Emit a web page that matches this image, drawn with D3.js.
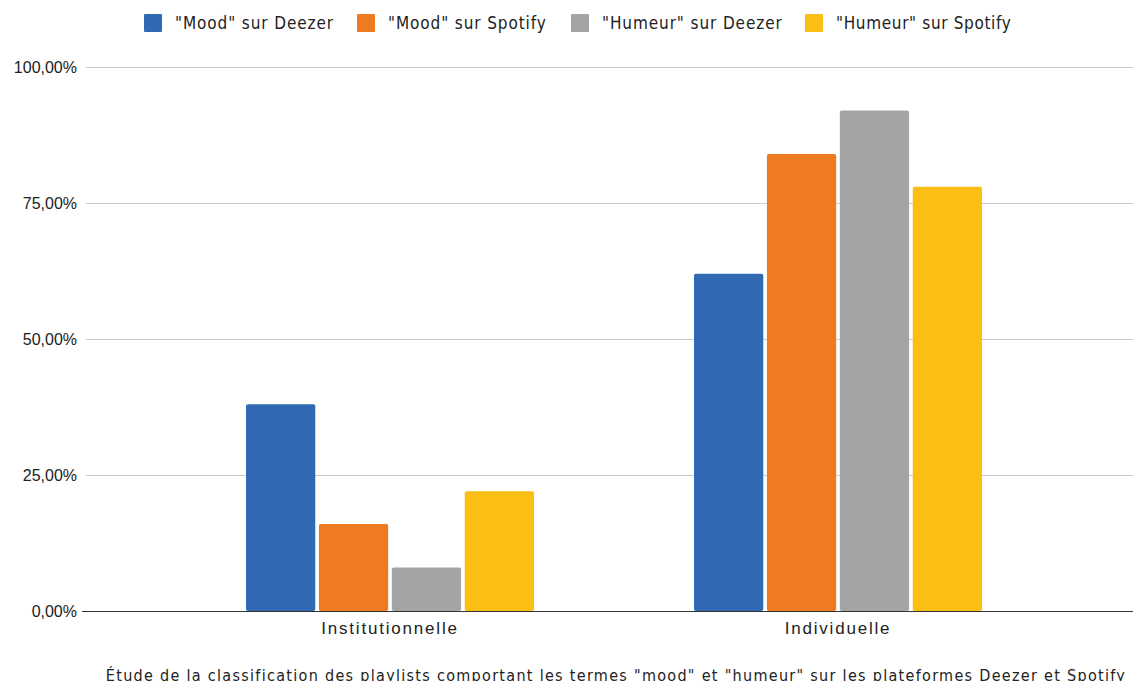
<!DOCTYPE html>
<html>
<head>
<meta charset="utf-8">
<script src="https://cdn.jsdelivr.net/npm/d3@7"></script>
<style>
  html, body { margin: 0; padding: 0; background: #fff; }
  svg { display: block; font-family: "DejaVu Sans Condensed", "DejaVu Sans", sans-serif; font-stretch: condensed; }
</style>
</head>
<body>
<svg id="chart" width="1133" height="681"></svg>
<script>
const categories = ["Institutionnelle", "Individuelle"];
const seriesNames = ["\"Mood\" sur Deezer", "\"Mood\" sur Spotify", "\"Humeur\" sur Deezer", "\"Humeur\" sur Spotify"];
const moodDeezer = [0.38, 0.62];
const moodSpotify = [0.16, 0.84];
const humeurDeezer = [0.08, 0.92];
const humeurSpotify = [0.22, 0.78];
const yTicks = [0, 0.25, 0.5, 0.75, 1];
const colors = ["#3169b3", "#ee7b22", "#a3a4a3", "#fabe14"];
const title = "Étude de la classification des playlists comportant les termes \"mood\" et \"humeur\" sur les plateformes Deezer et Spotify";

const seriesValues = [moodDeezer, moodSpotify, humeurDeezer, humeurSpotify];

const svg = d3.select("#chart");
const W = 1133;

const y = d3.scaleLinear().domain([0, 1]).range([611, 67]);
const x0 = d3.scaleBand().domain(categories).range([166, 1062]);
const x1 = d3.scaleBand().domain(seriesNames).range([80, 368]).paddingInner(0.05);

const fmt = v => d3.format(".2f")(v * 100).replace(".", ",") + "%";

// gridlines
svg.append("g").selectAll("line").data(yTicks.filter(d => d > 0)).join("line")
  .attr("x1", 86).attr("x2", W)
  .attr("y1", d => Math.round(y(d)) + 0.5).attr("y2", d => Math.round(y(d)) + 0.5)
  .attr("stroke", "#cccccc").attr("stroke-width", 1);

// y-axis labels
const yAxis = d3.axisLeft(y).tickValues(yTicks).tickFormat(fmt).tickSize(0).tickPadding(0);
const ga = svg.append("g").attr("transform", "translate(77,0)").call(yAxis);
ga.select(".domain").remove();
ga.selectAll("text").attr("font-size", 16).attr("fill", "#222")
  .attr("font-family", null);

// bars
const groups = svg.append("g").selectAll("g").data(categories).join("g")
  .attr("transform", d => `translate(${x0(d)},0)`);
groups.selectAll("rect").data((c, ci) => seriesNames.map((s, si) => ({ s, si, v: seriesValues[si][ci] })))
  .join("rect")
  .attr("x", d => x1(d.s))
  .attr("width", x1.bandwidth())
  .attr("y", d => y(d.v))
  .attr("height", d => y(0) - y(d.v))
  .attr("rx", 2)
  .attr("fill", d => colors[d.si]);

// baseline
svg.append("line").attr("x1", 82).attr("x2", W).attr("y1", 611.5).attr("y2", 611.5)
  .attr("stroke", "#333").attr("stroke-width", 1.2);

// category labels
const xAxis = d3.axisBottom(x0).tickSize(0).tickPadding(0);
const gx = svg.append("g").attr("transform", "translate(0,622)").call(xAxis);
gx.select(".domain").remove();
gx.selectAll("text").attr("font-size", 17).attr("fill", "#222")
  .attr("letter-spacing", 1.8)
  .attr("font-family", null);

// legend
const legendX = [144, 357, 571, 805];
const lg = svg.append("g").selectAll("g").data(seriesNames).join("g")
  .attr("transform", (d, i) => `translate(${legendX[i]},14)`);
lg.append("rect").attr("width", 18).attr("height", 18).attr("rx", 1).attr("fill", (d, i) => colors[i]);
lg.append("text").attr("x", 31).attr("y", 9).attr("dominant-baseline", "central")
  .attr("font-size", 17).attr("letter-spacing", (d, i) => i === 3 ? 0.65 : 0.9).attr("fill", "#222").text(d => d);

// title
svg.append("text").attr("x", 616).attr("y", 681).attr("text-anchor", "middle")
  .attr("font-size", 16).attr("letter-spacing", 1.3).attr("fill", "#222").text(title);
</script>
</body>
</html>
